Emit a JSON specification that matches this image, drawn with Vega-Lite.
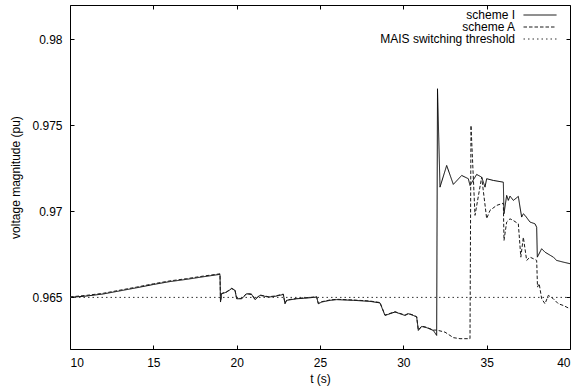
{
  "$schema": "https://vega.github.io/schema/vega-lite/v6.json",
  "width": 500,
  "height": 344,
  "autosize": {"type": "none"},
  "padding": {"left": 70, "top": 5, "right": 6, "bottom": 40},
  "background": "white",
  "data": {"values": [
      {"t":10,"v":0.9650,"series":"scheme I"},{"t":11,"v":0.96508,"series":"scheme I"},{"t":12,"v":0.96520,"series":"scheme I"},{"t":13,"v":0.96538,"series":"scheme I"},{"t":14,"v":0.96556,"series":"scheme I"},{"t":15,"v":0.96575,"series":"scheme I"},{"t":16,"v":0.96592,"series":"scheme I"},{"t":17,"v":0.96605,"series":"scheme I"},{"t":18,"v":0.96620,"series":"scheme I"},{"t":19,"v":0.96634,"series":"scheme I"},
      {"t":19.03,"v":0.96473,"series":"scheme I"},{"t":19.1,"v":0.96521,"series":"scheme I"},{"t":19.4,"v":0.96531,"series":"scheme I"},{"t":19.7,"v":0.96551,"series":"scheme I"},{"t":19.9,"v":0.96541,"series":"scheme I"},{"t":20.0,"v":0.96492,"series":"scheme I"},{"t":20.3,"v":0.96492,"series":"scheme I"},{"t":20.6,"v":0.96521,"series":"scheme I"},{"t":20.9,"v":0.96517,"series":"scheme I"},{"t":21.1,"v":0.96487,"series":"scheme I"},
      {"t":21.4,"v":0.96512,"series":"scheme I"},{"t":21.9,"v":0.96502,"series":"scheme I"},{"t":22.3,"v":0.96506,"series":"scheme I"},{"t":22.8,"v":0.96517,"series":"scheme I"},{"t":22.9,"v":0.96463,"series":"scheme I"},{"t":23.0,"v":0.96483,"series":"scheme I"},{"t":23.6,"v":0.96492,"series":"scheme I"},{"t":24.4,"v":0.96498,"series":"scheme I"},{"t":24.8,"v":0.96502,"series":"scheme I"},{"t":24.9,"v":0.96463,"series":"scheme I"},
      {"t":25.1,"v":0.96473,"series":"scheme I"},{"t":25.6,"v":0.96483,"series":"scheme I"},{"t":26.0,"v":0.96487,"series":"scheme I"},{"t":27.0,"v":0.96483,"series":"scheme I"},{"t":28.0,"v":0.96477,"series":"scheme I"},{"t":28.6,"v":0.96468,"series":"scheme I"},{"t":28.9,"v":0.96395,"series":"scheme I"},{"t":29.2,"v":0.96405,"series":"scheme I"},{"t":29.5,"v":0.96415,"series":"scheme I"},{"t":29.8,"v":0.96405,"series":"scheme I"},
      {"t":30.1,"v":0.96395,"series":"scheme I"},{"t":30.3,"v":0.96405,"series":"scheme I"},{"t":30.6,"v":0.96395,"series":"scheme I"},{"t":30.8,"v":0.96386,"series":"scheme I"},{"t":30.9,"v":0.96308,"series":"scheme I"},{"t":31.1,"v":0.96331,"series":"scheme I"},{"t":31.4,"v":0.96324,"series":"scheme I"},{"t":31.8,"v":0.96308,"series":"scheme I"},
      {"t":32.0,"v":0.96279,"series":"scheme I"},{"t":32.05,"v":0.97713,"series":"scheme I"},{"t":32.2,"v":0.97141,"series":"scheme I"},{"t":32.6,"v":0.97267,"series":"scheme I"},{"t":33.0,"v":0.97157,"series":"scheme I"},{"t":33.5,"v":0.97209,"series":"scheme I"},{"t":33.9,"v":0.9719,"series":"scheme I"},{"t":34.0,"v":0.97151,"series":"scheme I"},{"t":34.4,"v":0.97215,"series":"scheme I"},{"t":34.7,"v":0.97199,"series":"scheme I"},
      {"t":34.9,"v":0.97141,"series":"scheme I"},{"t":35.0,"v":0.9719,"series":"scheme I"},{"t":35.4,"v":0.9718,"series":"scheme I"},{"t":36.0,"v":0.9717,"series":"scheme I"},{"t":36.04,"v":0.96987,"series":"scheme I"},{"t":36.2,"v":0.97093,"series":"scheme I"},{"t":36.3,"v":0.97064,"series":"scheme I"},{"t":36.4,"v":0.97089,"series":"scheme I"},{"t":36.6,"v":0.97064,"series":"scheme I"},{"t":36.9,"v":0.97087,"series":"scheme I"},
      {"t":37.0,"v":0.97025,"series":"scheme I"},{"t":37.1,"v":0.96967,"series":"scheme I"},{"t":37.2,"v":0.96986,"series":"scheme I"},{"t":37.3,"v":0.96977,"series":"scheme I"},{"t":37.6,"v":0.96938,"series":"scheme I"},{"t":37.9,"v":0.96928,"series":"scheme I"},{"t":38.0,"v":0.96908,"series":"scheme I"},{"t":38.04,"v":0.96734,"series":"scheme I"},{"t":38.3,"v":0.96783,"series":"scheme I"},{"t":38.5,"v":0.96763,"series":"scheme I"},
      {"t":39.0,"v":0.96734,"series":"scheme I"},{"t":39.2,"v":0.96715,"series":"scheme I"},{"t":39.6,"v":0.96705,"series":"scheme I"},{"t":40.0,"v":0.96696,"series":"scheme I"},

      {"t":10,"v":0.96503,"series":"scheme A"},{"t":11,"v":0.96512,"series":"scheme A"},{"t":12,"v":0.96524,"series":"scheme A"},{"t":13,"v":0.96542,"series":"scheme A"},{"t":14,"v":0.9656,"series":"scheme A"},{"t":15,"v":0.96579,"series":"scheme A"},{"t":16,"v":0.96596,"series":"scheme A"},{"t":17,"v":0.96609,"series":"scheme A"},{"t":18,"v":0.96624,"series":"scheme A"},{"t":19,"v":0.96637,"series":"scheme A"},
      {"t":19.03,"v":0.96475,"series":"scheme A"},{"t":19.1,"v":0.96523,"series":"scheme A"},{"t":19.4,"v":0.96533,"series":"scheme A"},{"t":19.7,"v":0.96553,"series":"scheme A"},{"t":19.9,"v":0.96543,"series":"scheme A"},{"t":20.0,"v":0.96494,"series":"scheme A"},{"t":20.3,"v":0.96494,"series":"scheme A"},{"t":20.6,"v":0.96523,"series":"scheme A"},{"t":20.9,"v":0.96519,"series":"scheme A"},{"t":21.1,"v":0.96489,"series":"scheme A"},
      {"t":21.4,"v":0.96514,"series":"scheme A"},{"t":21.9,"v":0.96504,"series":"scheme A"},{"t":22.3,"v":0.96508,"series":"scheme A"},{"t":22.8,"v":0.96519,"series":"scheme A"},{"t":22.9,"v":0.96465,"series":"scheme A"},{"t":23.0,"v":0.96485,"series":"scheme A"},{"t":23.6,"v":0.96494,"series":"scheme A"},{"t":24.4,"v":0.965,"series":"scheme A"},{"t":24.8,"v":0.96504,"series":"scheme A"},{"t":24.9,"v":0.96465,"series":"scheme A"},
      {"t":25.1,"v":0.96475,"series":"scheme A"},{"t":25.6,"v":0.96485,"series":"scheme A"},{"t":26.0,"v":0.96489,"series":"scheme A"},{"t":27.0,"v":0.96485,"series":"scheme A"},{"t":28.0,"v":0.96479,"series":"scheme A"},{"t":28.6,"v":0.9647,"series":"scheme A"},{"t":28.9,"v":0.96397,"series":"scheme A"},{"t":29.2,"v":0.96407,"series":"scheme A"},{"t":29.5,"v":0.96417,"series":"scheme A"},{"t":29.8,"v":0.96407,"series":"scheme A"},
      {"t":30.1,"v":0.96397,"series":"scheme A"},{"t":30.3,"v":0.96407,"series":"scheme A"},{"t":30.6,"v":0.96397,"series":"scheme A"},{"t":30.8,"v":0.96388,"series":"scheme A"},{"t":30.9,"v":0.9631,"series":"scheme A"},{"t":31.1,"v":0.96333,"series":"scheme A"},{"t":31.4,"v":0.96326,"series":"scheme A"},{"t":31.8,"v":0.9631,"series":"scheme A"},
      {"t":32.0,"v":0.9631,"series":"scheme A"},{"t":32.5,"v":0.96298,"series":"scheme A"},{"t":33.0,"v":0.96266,"series":"scheme A"},{"t":33.4,"v":0.9626,"series":"scheme A"},{"t":34.0,"v":0.9626,"series":"scheme A"},{"t":34.06,"v":0.975,"series":"scheme A"},{"t":34.3,"v":0.96977,"series":"scheme A"},{"t":34.7,"v":0.97199,"series":"scheme A"},{"t":35.0,"v":0.96958,"series":"scheme A"},{"t":35.2,"v":0.97006,"series":"scheme A"},
      {"t":35.6,"v":0.97035,"series":"scheme A"},{"t":36.0,"v":0.97048,"series":"scheme A"},{"t":36.04,"v":0.96831,"series":"scheme A"},{"t":36.2,"v":0.96938,"series":"scheme A"},{"t":36.4,"v":0.96957,"series":"scheme A"},{"t":36.6,"v":0.96947,"series":"scheme A"},{"t":36.9,"v":0.96928,"series":"scheme A"},{"t":37.05,"v":0.96734,"series":"scheme A"},{"t":37.2,"v":0.9685,"series":"scheme A"},{"t":37.4,"v":0.96715,"series":"scheme A"},
      {"t":37.6,"v":0.96734,"series":"scheme A"},{"t":37.8,"v":0.96725,"series":"scheme A"},{"t":38.0,"v":0.96715,"series":"scheme A"},{"t":38.05,"v":0.9656,"series":"scheme A"},{"t":38.15,"v":0.9658,"series":"scheme A"},{"t":38.3,"v":0.96492,"series":"scheme A"},{"t":38.5,"v":0.96463,"series":"scheme A"},{"t":38.7,"v":0.96512,"series":"scheme A"},{"t":39.0,"v":0.96492,"series":"scheme A"},{"t":39.3,"v":0.96463,"series":"scheme A"},
      {"t":39.6,"v":0.96453,"series":"scheme A"},{"t":40.0,"v":0.96434,"series":"scheme A"},

      {"t":10,"v":0.965,"series":"MAIS switching threshold"},{"t":40,"v":0.965,"series":"MAIS switching threshold"}
  ]},
  "layer": [
    {
      "mark": {"type": "line", "strokeWidth": 1, "clip": true},
      "encoding": {
        "x": {"field": "t", "type": "quantitative", "scale": {"domain": [10, 40], "nice": false},
              "axis": {"title": "t (s)", "values": [10, 15, 20, 25, 30, 35, 40]}},
        "y": {"field": "v", "type": "quantitative", "scale": {"domain": [0.962, 0.982], "nice": false, "zero": false},
              "axis": {"title": "voltage magnitude (pu)", "values": [0.965, 0.97, 0.975, 0.98], "format": "~g"}},
        "color": {"field": "series", "type": "nominal",
                  "scale": {"domain": ["scheme I", "scheme A", "MAIS switching threshold"], "range": ["#000000", "#1a1a1a", "#333333"]},
                  "legend": {"title": null, "orient": "none", "legendX": 464, "legendY": 4}},
        "strokeDash": {"field": "series", "type": "nominal",
                  "scale": {"domain": ["scheme I", "scheme A", "MAIS switching threshold"], "range": [[1, 0], [3.5, 2], [1.5, 3]]},
                  "legend": {"title": null, "orient": "none", "legendX": 464, "legendY": 4}}
      }
    },
    {
      "mark": {"type": "line", "opacity": 0},
      "encoding": {
        "x": {"field": "t", "type": "quantitative", "axis": {"orient": "top", "labels": false, "title": null, "ticks": true, "values": [10, 15, 20, 25, 30, 35, 40]}},
        "y": {"field": "v", "type": "quantitative", "axis": {"orient": "right", "labels": false, "title": null, "ticks": true, "values": [0.965, 0.97, 0.975, 0.98]}}
      }
    }
  ],
  "resolve": {"axis": {"x": "independent", "y": "independent"}},
  "config": {
    "font": "Liberation Sans",
    "view": {"stroke": "#000000", "strokeWidth": 1},
    "axis": {
      "domain": false, "grid": false,
      "tickColor": "#000000", "tickSize": -4, "tickWidth": 1,
      "labelFont": "Liberation Sans", "labelFontSize": 12, "labelColor": "#000000",
      "titleFont": "Liberation Sans", "titleFontSize": 12, "titleFontWeight": "normal", "titleColor": "#000000"
    },
    "axisX": {"labelPadding": 12, "titlePadding": 5},
    "axisY": {"labelPadding": 12, "titlePadding": 9},
    "legend": {
      "symbolType": "M-3,0H3", "symbolSize": 121, "symbolStrokeWidth": 1,
      "labelFont": "Liberation Sans", "labelFontSize": 12, "labelColor": "#000000",
      "labelAlign": "right", "labelOffset": -31, "rowPadding": -0.5
    }
  }
}
